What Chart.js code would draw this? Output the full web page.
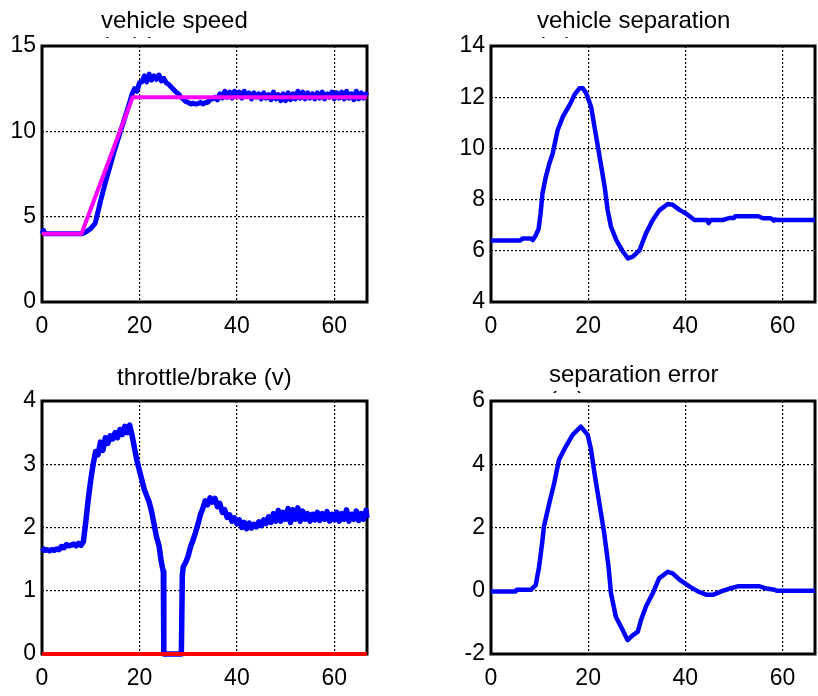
<!DOCTYPE html>
<html>
<head>
<meta charset="utf-8">
<script src="https://cdn.jsdelivr.net/npm/chart.js@4.4.1/dist/chart.umd.min.js"></script>
<style>
  html, body { margin: 0; padding: 0; background: #fff; }
  #page { position: relative; width: 818px; height: 696px; overflow: hidden; }
  #page canvas { position: absolute; }
</style>
</head>
<body>
<div id="page">
  <canvas id="speedChart"></canvas>
  <canvas id="separationChart"></canvas>
  <canvas id="throttleChart"></canvas>
  <canvas id="errorChart"></canvas>
</div>
<script>
// time axis (s)
const xTicks = [0, 20, 40, 60];
const xMax = 66.7;

// vehicle speed: measured (blue) and commanded (magenta)
const speedTime = [0, 0.3, 0.6, 1, 8.3, 9, 10, 10.9, 11.5, 12, 13, 14, 15, 16, 17, 18,
  18.5, 19, 19.5, 20, 20.5, 21, 21.5, 22, 22.5, 23, 23.5, 24, 24.5, 25, 25.5, 26, 26.5, 27, 27.5, 28,
  28.5, 29, 29.5, 30, 30.5, 31, 31.5, 32, 32.5, 33, 33.5, 34, 34.5, 35, 35.5, 36, 36.5, 37, 37.5, 38,
  38.5, 39, 39.5, 40, 40.5, 41, 41.5, 42, 42.5, 43, 43.5, 44, 44.5, 45, 45.5, 46, 46.5, 47, 47.5, 48,
  48.5, 49, 49.5, 50, 50.5, 51, 51.5, 52, 52.5, 53, 53.5, 54, 54.5, 55, 55.5, 56, 56.5, 57, 57.5, 58,
  58.5, 59, 59.5, 60, 60.5, 61, 61.5, 62, 62.5, 63, 63.5, 64, 64.5, 65, 65.5, 66, 66.5, 66.7];
const speedValue = [4.0, 4.2, 4.0, 4.0, 4.0, 4.1, 4.3, 4.6, 5.3, 5.9, 7.0, 8.0, 9.0, 9.9, 10.8, 11.7,
  12.2, 12.5, 12.35, 12.85, 12.9, 13.25, 12.9, 13.35, 13.0, 13.25, 13.05, 13.3, 12.95, 13.1, 12.85, 12.75, 12.6, 12.45, 12.3, 12.2,
  12.0, 11.9, 11.75, 11.7, 11.6, 11.65, 11.6, 11.62, 11.7, 11.6, 11.68, 11.7, 11.85, 11.9, 12.0, 11.85, 12.2, 11.95, 12.35, 12.0,
  12.3, 11.95, 12.35, 12.05, 12.3, 11.95, 12.35, 12.05, 12.25, 11.9, 12.25, 12.0, 12.2, 11.9, 12.25, 11.95, 12.15, 11.85, 12.3, 11.9,
  12.15, 11.8, 12.2, 11.8, 12.25, 11.85, 12.2, 11.9, 12.35, 11.95, 12.3, 11.9, 12.25, 11.95, 12.2, 11.9, 12.25, 11.95, 12.3, 11.9,
  12.2, 12.0, 12.3, 11.9, 12.25, 11.95, 12.3, 11.9, 12.35, 11.95, 12.2, 11.85, 12.35, 11.9, 12.25, 11.95, 12.2, 12.1];
const speedRefTime = [0, 8.1, 18.6, 66.7];
const speedRefValue = [4, 4, 12, 12];
const speedTicks = [0, 5, 10, 15];

// vehicle separation (m)
const separationTime = [0, 6, 6.5, 8.2, 8.6, 9.2, 9.8, 10.2, 10.6, 11.3, 12.0, 12.7, 13.7, 14.8, 16.2, 17.2,
  18.2, 18.9, 19.6, 20.6, 21.3, 22, 22.7, 23.4, 24, 24.7, 25.8, 27.2, 28.2, 29.2, 30.6, 31.9, 33.3, 34.7,
  36.4, 37.4, 38.8, 40.2, 41.9, 44.5, 44.8, 45.2, 47.7, 49.0, 50.0, 50.3, 55.0, 56.0, 57.6, 58.2, 58.4, 59, 66.7];
const separationValue = [6.4, 6.4, 6.48, 6.48, 6.42, 6.6, 6.85, 7.45, 8.25, 8.9, 9.4, 9.8, 10.7, 11.24, 11.7, 12.1,
  12.35, 12.35, 12.15, 11.63, 10.85, 10.07, 9.29, 8.5, 7.6, 6.94, 6.42, 5.96, 5.7, 5.77, 6.03, 6.68, 7.2, 7.59,
  7.83, 7.8, 7.6, 7.45, 7.2, 7.2, 7.08, 7.2, 7.2, 7.28, 7.28, 7.35, 7.35, 7.27, 7.27, 7.18, 7.22, 7.2, 7.2];
const separationTicks = [4, 6, 8, 10, 12, 14];

// throttle (blue) and brake (red) commands (v)
const throttleTime = [0, 0.5, 1, 1.5, 2, 2.5, 3, 3.5, 4, 4.5, 5, 5.5, 6, 6.5, 7, 7.5, 8, 8.5, 9, 9.5,
  10, 10.5, 11, 11.5, 12, 12.5, 13, 13.5, 14, 14.5, 15, 15.5, 16, 16.5, 17, 17.5, 18, 18.5, 19, 19.5,
  20, 20.5, 21, 21.5, 22, 22.5, 23, 23.5, 24, 24.5, 24.9, 25.0, 25.2, 28.6, 28.8, 29, 29.5, 30, 30.5, 31, 31.5,
  32, 32.5, 33, 33.5, 34, 34.5, 35, 35.5, 36, 36.5, 37, 37.5, 38, 38.5, 39, 39.5, 40, 40.5, 41, 41.5,
  42, 42.5, 43, 43.5, 44, 44.5, 45, 45.5, 46, 46.5, 47, 47.5, 48, 48.5, 49, 49.5, 50, 50.5, 51, 51.5,
  52, 52.5, 53, 53.5, 54, 54.5, 55, 55.5, 56, 56.5, 57, 57.5, 58, 58.5, 59, 59.5, 60, 60.5, 61, 61.5,
  62, 62.5, 63, 63.5, 64, 64.5, 65, 65.5, 66, 66.5, 66.7];
const throttleValue = [1.68, 1.64, 1.65, 1.63, 1.65, 1.64, 1.66, 1.65, 1.7, 1.68, 1.73, 1.71, 1.72, 1.74, 1.71, 1.75, 1.72, 1.78, 2.1, 2.45,
  2.75, 3.0, 3.2, 3.15, 3.35, 3.22, 3.42, 3.33, 3.45, 3.4, 3.5, 3.42, 3.55, 3.47, 3.6, 3.5, 3.62, 3.45, 3.25, 3.05,
  2.9, 2.75, 2.6, 2.5, 2.4, 2.25, 2.05, 1.85, 1.72, 1.45, 1.3, 0, 0, 0, 1.25, 1.38, 1.45, 1.55, 1.7, 1.8, 1.92,
  2.05, 2.2, 2.3, 2.42, 2.36, 2.47, 2.4, 2.46, 2.33, 2.38, 2.24, 2.28, 2.16, 2.2, 2.1, 2.15, 2.06, 2.12, 2.0, 2.08,
  1.98, 2.07, 1.99, 2.05, 2.01, 2.09, 2.03, 2.12, 2.06, 2.17, 2.08, 2.22, 2.1, 2.27, 2.1, 2.24, 2.13, 2.3, 2.08, 2.28,
  2.13, 2.31, 2.1, 2.26, 2.13, 2.22, 2.1, 2.21, 2.12, 2.24, 2.11, 2.22, 2.13, 2.25, 2.1, 2.21, 2.12, 2.24, 2.1, 2.22,
  2.13, 2.28, 2.1, 2.21, 2.13, 2.26, 2.11, 2.22, 2.13, 2.27, 2.15];
const brakeTime = [0, 66.7];
const brakeValue = [0, 0];
const throttleTicks = [0, 1, 2, 3, 4];

// separation error (m)
const errorTime = [0, 5.1, 5.3, 8.2, 9.2, 9.9, 10.6, 10.9, 12.0, 13.0, 14.0, 15.4, 16.8, 18.5, 19.9, 20.6,
  21.3, 22.3, 23.3, 24.2, 24.7, 25.7, 27.1, 28.1, 29.2, 30.2, 30.9, 31.9, 33.3, 34.6, 36.4, 37.4, 38.8,
  40.9, 42.6, 44.4, 45.7, 47.4, 49.1, 50.8, 55.3, 56.7, 58.4, 58.8, 66.7];
const errorValue = [-0.02, -0.02, 0.03, 0.03, 0.18, 0.76, 1.6, 2.04, 2.77, 3.4, 4.14, 4.56, 4.93, 5.19, 4.93, 4.46,
  3.72, 2.77, 1.82, 0.76, -0.08, -0.82, -1.24, -1.56, -1.4, -1.3, -0.92, -0.5, -0.08, 0.39, 0.6, 0.55, 0.35,
  0.13, -0.02, -0.13, -0.13, -0.02, 0.07, 0.14, 0.14, 0.07, 0.03, 0.0, 0.0];
const errorTicks = [-2, 0, 2, 4, 6];

const FONT = '"Liberation Sans", Arial, Helvetica, sans-serif';

function toPoints(xs, ys) {
  return xs.map((x, i) => ({ x: x, y: ys[i] }));
}

// axes box + title drawn like a matlab subplot
const subplotDecor = {
  id: 'subplotDecor',
  beforeDatasetsDraw(chart) {
    const { ctx, chartArea: a } = chart;
    ctx.save();
    ctx.lineWidth = 3;
    ctx.strokeStyle = '#000';
    ctx.strokeRect(a.left, a.top, a.right - a.left, a.bottom - a.top);
    ctx.restore();
  },
  afterDraw(chart, args, opts) {
    const { ctx, chartArea: a } = chart;
    const x = a.left + opts.dx;
    const y = a.top + opts.dy;
    ctx.save();
    ctx.font = '24px ' + FONT;
    ctx.fillStyle = '#000';
    ctx.textAlign = 'left';
    ctx.textBaseline = 'alphabetic';
    ctx.fillText(opts.text, x, y);
    if (opts.unit) {
      // second title line sits behind the axes, only its top shows
      ctx.beginPath();
      ctx.rect(0, 0, chart.width, a.top - 8);
      ctx.clip();
      ctx.fillText(opts.unit, x, y + 26);
    }
    ctx.restore();
  }
};

function makeSubplot(id, frame, area, yMin, yMax, yTicks, datasets, title) {
  const canvas = document.getElementById(id);
  canvas.width = frame.width;
  canvas.height = frame.height;
  canvas.style.left = frame.left + 'px';
  canvas.style.top = frame.top + 'px';

  const gridOpts = { color: '#000', lineWidth: 1.2, drawTicks: false };
  const borderOpts = { display: false, dash: [2, 2] };
  const tickFont = { family: FONT, size: 23 };

  return new Chart(canvas, {
    type: 'line',
    data: { datasets: datasets },
    options: {
      responsive: false,
      animation: false,
      events: [],
      layout: {
        padding: {
          left: 0,
          top: area.top - frame.top,
          right: frame.left + frame.width - area.right,
          bottom: 0
        }
      },
      elements: { point: { radius: 0 }, line: { tension: 0 } },
      plugins: {
        legend: { display: false },
        tooltip: { enabled: false },
        subplotDecor: title
      },
      scales: {
        x: {
          type: 'linear',
          min: 0,
          max: xMax,
          afterBuildTicks: s => { s.ticks = xTicks.map(v => ({ value: v })); },
          afterFit: s => { s.height = frame.top + frame.height - area.bottom; },
          grid: gridOpts,
          border: borderOpts,
          ticks: { color: '#000', font: tickFont, padding: 11, maxRotation: 0, autoSkip: false }
        },
        y: {
          type: 'linear',
          min: yMin,
          max: yMax,
          afterBuildTicks: s => { s.ticks = yTicks.map(v => ({ value: v })); },
          afterFit: s => { s.width = area.left - frame.left; },
          grid: gridOpts,
          border: borderOpts,
          ticks: { color: '#000', font: tickFont, padding: 6 }
        }
      }
    },
    plugins: [subplotDecor]
  });
}

function line(xs, ys, color, width, order) {
  return {
    data: toPoints(xs, ys),
    borderColor: color,
    borderWidth: width,
    borderJoinStyle: 'round',
    borderCapStyle: 'butt',
    fill: false,
    clip: 3,
    order: order
  };
}

const BLUE = '#0000ff';

makeSubplot('speedChart',
  { left: 0, top: 0, width: 409, height: 340 },
  { left: 42, top: 46, right: 367, bottom: 302 },
  0, 15, speedTicks,
  [line(speedRefTime, speedRefValue, '#ff00ff', 4, 0),
   line(speedTime, speedValue, BLUE, 5, 1)],
  { text: 'vehicle speed', unit: '(m/s)', dx: 59, dy: -18 });

makeSubplot('separationChart',
  { left: 409, top: 0, width: 409, height: 340 },
  { left: 491, top: 46, right: 815, bottom: 302 },
  4, 14, separationTicks,
  [line(separationTime, separationValue, BLUE, 4.5, 0)],
  { text: 'vehicle separation', unit: '(m)', dx: 46, dy: -18 });

makeSubplot('throttleChart',
  { left: 0, top: 340, width: 409, height: 356 },
  { left: 42, top: 401, right: 367, bottom: 654 },
  0, 4, throttleTicks,
  [line(brakeTime, brakeValue, '#ff0000', 4, 0),
   line(throttleTime, throttleValue, BLUE, 5.5, 1)],
  { text: 'throttle/brake (v)', dx: 75, dy: -16 });

makeSubplot('errorChart',
  { left: 409, top: 340, width: 409, height: 356 },
  { left: 491, top: 401, right: 815, bottom: 654 },
  -2, 6, errorTicks,
  [line(errorTime, errorValue, BLUE, 4.5, 0)],
  { text: 'separation error', unit: '(m)', dx: 58, dy: -19 });
</script>
</body>
</html>
